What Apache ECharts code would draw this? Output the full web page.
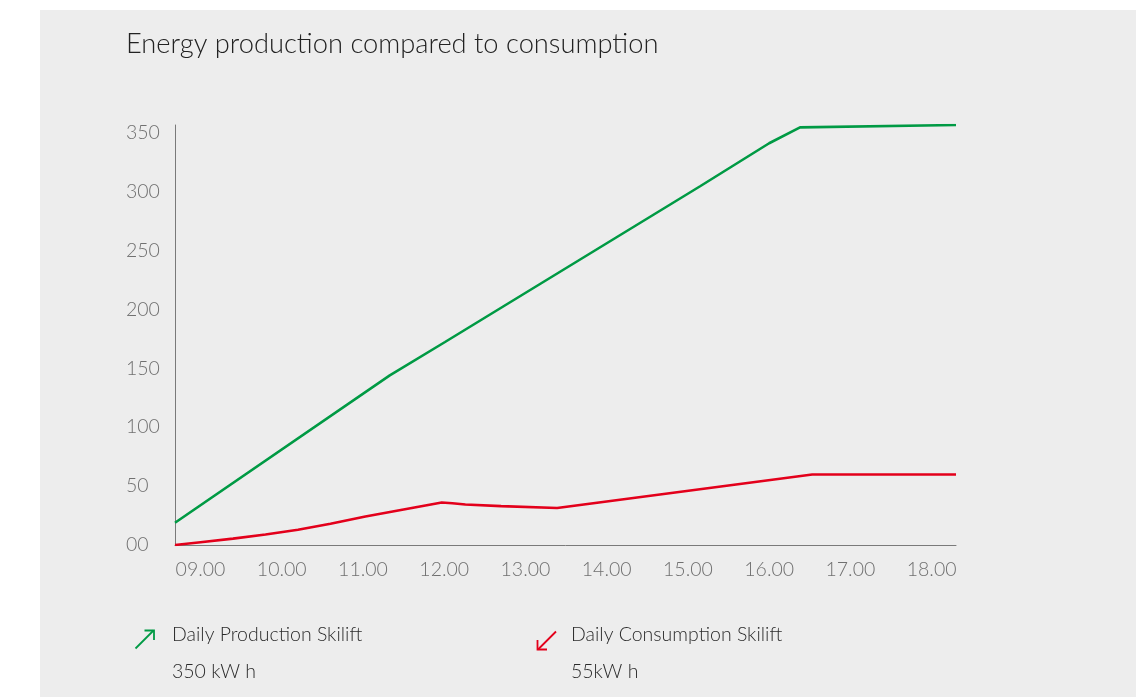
<!DOCTYPE html>
<html>
<head>
<meta charset="utf-8">
<title>Energy production compared to consumption</title>
<script src="https://cdn.jsdelivr.net/npm/echarts@6/dist/echarts.min.js"></script>
<style>
  html, body { margin: 0; padding: 0; background: #ffffff; }
  #panel { position: absolute; left: 40px; top: 10px; width: 1096px; height: 687px; background: #ededed; }
  #chart { position: absolute; left: 0; top: 0; width: 1137px; height: 697px; }
</style>
</head>
<body>
<div id="panel"></div>
<div id="chart"></div>
<script>
// Time of day in decimal hours, cumulative energy in kWh
const productionTimes  = [8.686, 11.33, 12.01, 15.15, 16.0, 16.38, 18.3];
const productionValues = [18.9, 144.0, 172.3, 304.5, 341.0, 354.5, 356.5];

const consumptionTimes  = [8.686, 9.0, 9.4, 9.8, 10.2, 10.6, 11.03, 11.5, 11.97, 12.1, 12.26, 12.7, 13.39, 16.53, 18.3];
const consumptionValues = [0, 2.4, 5.4, 8.9, 12.9, 18.0, 24.2, 30.2, 36.1, 35.4, 34.4, 33.0, 31.4, 59.9, 59.9];

const hourTicks   = [9, 10, 11, 12, 13, 14, 15, 16, 17, 18];
const energyTicks = [0, 50, 100, 150, 200, 250, 300, 350];

const seriesNames  = ['Daily Production Skilift', 'Daily Consumption Skilift'];
const seriesTotals = ['350 kW h', '55kW h'];
const seriesColors = ['#009a44', '#e3001b'];

const titleText = 'Energy production compared to consumption';

const FONT = 'Lato, "Open Sans", sans-serif';

function pairs(xs, ys) { return xs.map((x, i) => [x, ys[i]]); }

const chart = echarts.init(document.getElementById('chart'), null, { renderer: 'canvas' });

chart.setOption({
  backgroundColor: 'transparent',
  animation: false,
  title: {
    text: titleText,
    left: 121,
    top: 26,
    textStyle: { fontFamily: FONT, fontSize: 27.3, fontWeight: 300, color: '#222222' }
  },
  grid: { left: 175, top: 125, right: 181, bottom: 152, outerBoundsMode: 'none', containLabel: false },
  xAxis: {
    type: 'value',
    min: 8.686,
    max: 18.3,
    axisLine: { show: true, lineStyle: { color: '#7a7a7a', width: 1 } },
    axisTick: { show: false },
    splitLine: { show: false },
    axisLabel: {
      customValues: hourTicks,
      margin: 15,
      color: '#707070',
      fontFamily: FONT,
      fontSize: 19.5,
      fontWeight: 300,
      formatter: v => String(Math.round(v)).padStart(2, '0') + '.00'
    }
  },
  yAxis: {
    type: 'value',
    min: 0,
    max: 356.5,
    axisLine: { show: true, lineStyle: { color: '#7a7a7a', width: 1 } },
    axisTick: { show: false },
    splitLine: { show: false },
    axisLabel: {
      customValues: energyTicks,
      margin: 49,
      align: 'left',
      color: '#707070',
      fontFamily: FONT,
      fontSize: 19.5,
      fontWeight: 300,
      formatter: v => (v === 0 ? '00' : String(v))
    }
  },
  series: [
    {
      name: seriesNames[0],
      type: 'line',
      data: pairs(productionTimes, productionValues),
      showSymbol: false,
      lineStyle: { color: seriesColors[0], width: 2.6 },
      z: 3
    },
    {
      name: seriesNames[1],
      type: 'line',
      data: pairs(consumptionTimes, consumptionValues),
      showSymbol: false,
      lineStyle: { color: seriesColors[1], width: 2.6 },
      z: 3
    }
  ],
  graphic: [
    // production key: arrow pointing up-right
    {
      type: 'group', left: 133, top: 628,
      children: [
        { type: 'line', shape: { x1: 1, y1: 19, x2: 19, y2: 1 }, style: { stroke: seriesColors[0], lineWidth: 1.8 } },
        { type: 'polyline', shape: { points: [[10, 1], [19.5, 1], [19.5, 10.5]] }, style: { stroke: seriesColors[0], lineWidth: 1.8, fill: null } }
      ]
    },
    { type: 'text', left: 172, top: 625, style: { text: seriesNames[0], fill: '#2b2b2b', font: '300 19.5px ' + FONT } },
    { type: 'text', left: 172, top: 662, style: { text: seriesTotals[0], fill: '#2b2b2b', font: '300 19.5px ' + FONT } },
    // consumption key: arrow pointing down-left
    {
      type: 'group', left: 535, top: 629,
      children: [
        { type: 'line', shape: { x1: 19, y1: 1, x2: 1, y2: 19 }, style: { stroke: seriesColors[1], lineWidth: 1.8 } },
        { type: 'polyline', shape: { points: [[0.5, 9.5], [0.5, 19], [10, 19]] }, style: { stroke: seriesColors[1], lineWidth: 1.8, fill: null } }
      ]
    },
    { type: 'text', left: 571, top: 625, style: { text: seriesNames[1], fill: '#2b2b2b', font: '300 19.5px ' + FONT } },
    { type: 'text', left: 571, top: 662, style: { text: seriesTotals[1], fill: '#2b2b2b', font: '300 19.5px ' + FONT } }
  ]
});
</script>
</body>
</html>
